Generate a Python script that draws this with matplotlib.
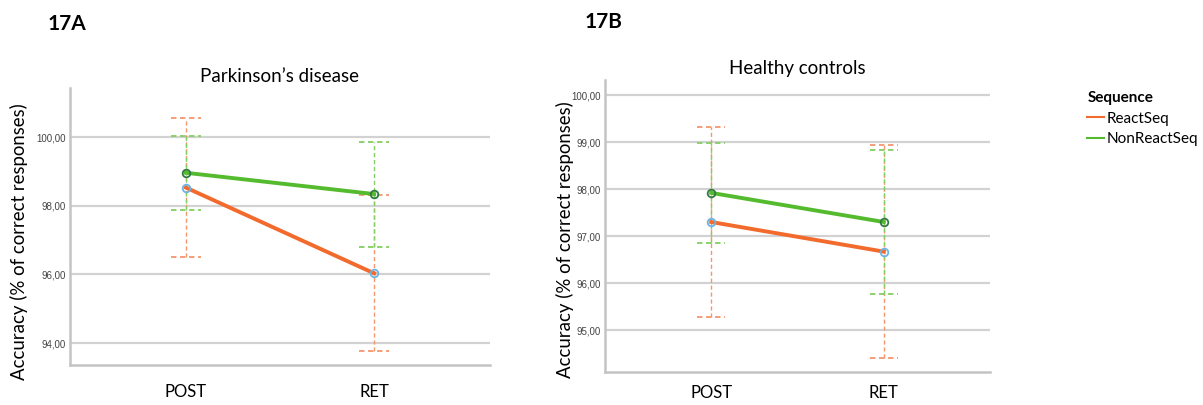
import matplotlib.pyplot as plt
import numpy as np

plt.rcParams['font.family'] = ['Lato', 'DejaVu Sans']

sessions = ['POST', 'RET']
series = ['ReactSeq', 'NonReactSeq']

# Parkinson's disease: means and 95% CI bounds
pd_react_mean = [98.53, 96.03]
pd_react_low = [96.50, 93.77]
pd_react_high = [100.56, 98.30]
pd_nonreact_mean = [98.96, 98.34]
pd_nonreact_low = [97.88, 96.80]
pd_nonreact_high = [100.04, 99.87]

# Healthy controls: means and 95% CI bounds
hc_react_mean = [97.30, 96.67]
hc_react_low = [95.28, 94.41]
hc_react_high = [99.32, 98.93]
hc_nonreact_mean = [97.92, 97.30]
hc_nonreact_low = [96.85, 95.77]
hc_nonreact_high = [98.99, 98.83]

line_col = {'ReactSeq': '#f26a2c', 'NonReactSeq': '#55bb2e'}
err_col = {'ReactSeq': '#f5966e', 'NonReactSeq': '#84cf62'}
edge_col = {'ReactSeq': '#6fb2e6', 'NonReactSeq': '#2f7a43'}


def draw_panel(ax, data, title, yticks, ylim, xpad, label_pos):
    x = np.arange(len(sessions))
    for name, (mean, low, high) in data.items():
        ax.vlines(x, low, high, colors=err_col[name], linestyles=(0, (3, 2)),
                  linewidth=1.0, zorder=3)
        for lo_hi in (low, high):
            ax.hlines(lo_hi, x - 0.08, x + 0.08, colors=err_col[name],
                      linestyles=(0, (3, 2)), linewidth=1.3, zorder=3)
    for name, (mean, low, high) in data.items():
        ax.plot(x, mean, color=line_col[name], linewidth=2.8, label=name,
                zorder=4)
        ax.plot(x, mean, linestyle='none', marker='o', markersize=5.5,
                markerfacecolor='none', markeredgecolor=edge_col[name],
                markeredgewidth=1.3, zorder=5)
    ax.set_xlim(-0.615, 1.615)
    ax.set_ylim(*ylim)
    ax.set_yticks(yticks)
    # comma as decimal separator
    ax.set_yticklabels([('%.2f' % v).replace('.', ',') for v in yticks],
                       family='Liberation Sans')
    ax.set_xticks(x)
    ax.set_xticklabels(sessions, fontsize=12)
    ax.tick_params(axis='x', length=0, pad=xpad)
    ax.tick_params(axis='y', labelsize=7, length=0, pad=3,
                   labelcolor='#444444')
    ax.yaxis.grid(True, color='#d2d2d2', linewidth=1.6)
    ax.set_axisbelow(True)
    for side in ('top', 'right'):
        ax.spines[side].set_visible(False)
    for side in ('left', 'bottom'):
        ax.spines[side].set_color('#c4c4c4')
        ax.spines[side].set_linewidth(1.8)
    ax.set_title(title, fontsize=13.5, pad=4)
    ax.set_ylabel('Accuracy (% of correct responses)', fontsize=13.4)
    ax.yaxis.set_label_coords(*label_pos)


fig = plt.figure(figsize=(12.03, 4.05), dpi=100)

ax1 = fig.add_axes([70 / 1203, 40 / 405, 420 / 1203, 277 / 405])
draw_panel(ax1, {'ReactSeq': (pd_react_mean, pd_react_low, pd_react_high),
                 'NonReactSeq': (pd_nonreact_mean, pd_nonreact_low, pd_nonreact_high)},
           'Parkinson’s disease', [94, 96, 98, 100], (93.36, 101.43),
           14, (-0.10, 0.444))

ax2 = fig.add_axes([605 / 1203, 33 / 405, 385 / 1203, 292 / 405])
draw_panel(ax2, {'ReactSeq': (hc_react_mean, hc_react_low, hc_react_high),
                 'NonReactSeq': (hc_nonreact_mean, hc_nonreact_low, hc_nonreact_high)},
           'Healthy controls', [95, 96, 97, 98, 99, 100], (94.11, 100.32),
           9, (-0.08, 0.452))

leg = ax2.legend(loc='upper left', bbox_to_anchor=(1.225, 1.0), title='Sequence',
                 frameon=False, fontsize=11, handlelength=1.1,
                 handletextpad=0.15, borderaxespad=0.3, labelspacing=0.45)
leg.get_title().set_fontweight('bold')
leg.get_title().set_fontsize(11)
leg._legend_box.align = 'left'
for h in leg.get_lines():
    h.set_linewidth(1.5)

fig.text(48 / 1203, 1 - 24 / 405, '17A', fontsize=15, fontweight='bold',
         va='center', ha='left')
fig.text(585 / 1203, 1 - 22 / 405, '17B', fontsize=15, fontweight='bold',
         va='center', ha='left')

fig.savefig('out.png', dpi=100, facecolor='white')
